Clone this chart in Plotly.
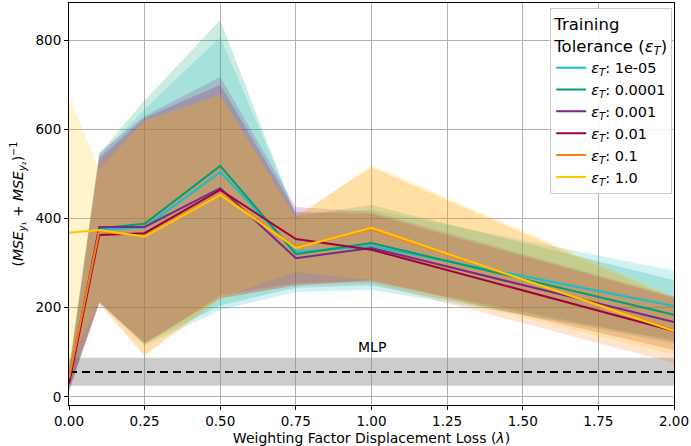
import plotly.graph_objects as go

# ---- data ----
lam = [0.0, 0.1, 0.25, 0.5, 0.75, 1.0, 2.0]
labels = ["1e-05", "0.0001", "0.001", "0.01", "0.1", "1.0"]
colors = ["#17becf", "#009e73", "#7b2a83", "#a2003c", "#ff7f0e", "#ffc800"]

mean_1e5 = [38, 375, 380, 504, 325, 338, 204]
mean_1e4 = [40, 378, 388, 518, 320, 345, 184]
mean_1e3 = [33, 381, 381, 468, 311, 334, 168]
mean_1e2 = [30, 363, 367, 464, 354, 330, 148]
mean_1e1 = [42, 372, 360, 455, 336, 376, 150]
mean_1e0 = [368, 374, 359, 453, 334, 379, 148]

upper_1e5 = [60, 540, 645, 807, 410, 420, 283]
upper_1e4 = [65, 545, 665, 845, 405, 430, 262]
upper_1e3 = [58, 548, 630, 717, 426, 415, 225]
upper_1e2 = [52, 535, 625, 700, 415, 410, 222]
upper_1e1 = [62, 525, 615, 675, 405, 515, 220]
upper_1e0 = [673, 510, 620, 678, 400, 520, 225]

lower_1e5 = [18, 212, 115, 195, 235, 240, 128]
lower_1e4 = [20, 215, 120, 205, 245, 250, 120]
lower_1e3 = [15, 213, 118, 228, 255, 258, 125]
lower_1e2 = [12, 210, 121, 222, 250, 262, 105]
lower_1e1 = [22, 208, 92, 220, 250, 255, 76]
lower_1e0 = [70, 216, 95, 222, 280, 262, 95]

means = [mean_1e5, mean_1e4, mean_1e3, mean_1e2, mean_1e1, mean_1e0]
uppers = [upper_1e5, upper_1e4, upper_1e3, upper_1e2, upper_1e1, upper_1e0]
lowers = [lower_1e5, lower_1e4, lower_1e3, lower_1e2, lower_1e1, lower_1e0]

mlp_mean = 56
mlp_low = 25
mlp_high = 88


def rgba(hexc, a):
    h = hexc.lstrip("#")
    r, g, b = int(h[0:2], 16), int(h[2:4], 16), int(h[4:6], 16)
    return f"rgba({r},{g},{b},{a})"


fig = go.Figure()

# MLP band
fig.add_trace(go.Scatter(x=[0, 2, 2, 0, 0], y=[mlp_low, mlp_low, mlp_high, mlp_high, mlp_low],
                         fill="toself", fillcolor="rgba(128,128,128,0.4)", line=dict(width=0),
                         mode="lines", showlegend=False, hoverinfo="skip"))

# bands
for c, up, lo in zip(colors, uppers, lowers):
    fig.add_trace(go.Scatter(x=lam + lam[::-1], y=up + lo[::-1], fill="toself",
                             fillcolor=rgba(c, 0.2), line=dict(width=0), mode="lines",
                             showlegend=False, hoverinfo="skip"))

fig.add_trace(go.Scatter(x=[0, 2], y=[mlp_mean, mlp_mean], mode="lines",
                         line=dict(color="black", width=2, dash="8px,5px"), showlegend=False))

# lines
for c, m, lab in zip(colors, means, labels):
    fig.add_trace(go.Scatter(x=lam, y=m, mode="lines", line=dict(color=c, width=2),
                             name=f"<i>ε</i><sub><i>T</i></sub>: {lab}"))

fig.add_annotation(x=1.0, y=mlp_high + 2, text="MLP", showarrow=False, yanchor="bottom",
                   font=dict(size=14, color="black"))

fig.update_layout(
    width=691, height=446,
    margin=dict(l=69, r=17, t=3, b=41),
    plot_bgcolor="white", paper_bgcolor="white",
    font=dict(family="DejaVu Sans", size=13, color="black"),
    legend=dict(
        x=0.997, y=0.988, xanchor="right", yanchor="top",
        bgcolor="rgba(255,255,255,0.85)", bordercolor="#cccccc", borderwidth=1,
        font=dict(size=14.5),
        title=dict(text="Training<br>Tolerance (<i>ε</i><sub><i>T</i></sub>)", side="top center",
                   font=dict(size=16.5)),
        tracegroupgap=0,
    ),
)
fig.update_xaxes(range=[0, 2], tickvals=[0, 0.25, 0.5, 0.75, 1.0, 1.25, 1.5, 1.75, 2.0],
                 ticktext=["0.00", "0.25", "0.50", "0.75", "1.00", "1.25", "1.50", "1.75", "2.00"],
                 showgrid=True, gridcolor="#b0b0b0", gridwidth=1, showline=True, linecolor="black",
                 linewidth=1, mirror=True, ticks="outside", ticklen=4, tickcolor="black",
                 zeroline=False, automargin=False, tickfont=dict(size=13.5),
                 title=dict(text="Weighting Factor Displacement Loss (<i>λ</i>)", standoff=4,
                            font=dict(size=14)))
fig.update_yaxes(range=[-18, 883], tickvals=[0, 200, 400, 600, 800],
                 showgrid=True, gridcolor="#b0b0b0", gridwidth=1, showline=True, linecolor="black",
                 linewidth=1, mirror=True, ticks="outside", ticklen=4, tickcolor="black",
                 zeroline=False, automargin=False, tickfont=dict(size=13.5),
                 title=dict(text="(<i>MSE</i><sub><i>y</i>₁</sub> + <i>MSE</i><sub><i>y</i>₂</sub>)<sup>−1</sup>",
                            standoff=8, font=dict(size=14)))

fig.write_html("out.html", config={"displayModeBar": False},
               post_script="document.body.style.margin='0';")
